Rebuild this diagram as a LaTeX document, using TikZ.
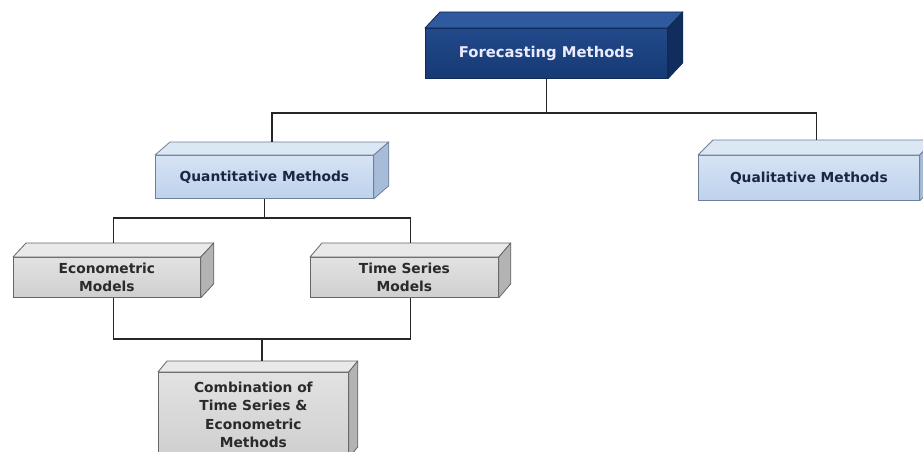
\documentclass[tikz,border=0pt]{standalone}
\usepackage{fontspec}
\setmainfont{DejaVu Sans}
\usetikzlibrary{calc}
\definecolor{fmfrontA}{HTML}{22498B}
\definecolor{fmfrontB}{HTML}{163A74}
\definecolor{fmtopc}{HTML}{2F5A9E}
\definecolor{fmside}{HTML}{102D5E}
\definecolor{fmline}{HTML}{0E2A57}
\definecolor{qfrontA}{HTML}{D5E3F4}
\definecolor{qfrontB}{HTML}{BED2EC}
\definecolor{qtopc}{HTML}{DCE7F4}
\definecolor{qside}{HTML}{A7BCD8}
\definecolor{qline}{HTML}{6F7F96}
\definecolor{qtext}{HTML}{1B2642}
\definecolor{gfrontA}{HTML}{E2E2E2}
\definecolor{gfrontB}{HTML}{CFCFCF}
\definecolor{gtopc}{HTML}{E9E9E9}
\definecolor{gside}{HTML}{B3B3B3}
\definecolor{gline}{HTML}{666666}
\definecolor{gtext}{HTML}{2A2A2A}
\tikzset{
  boxtext/.style={font=\bfseries\fontsize{13.8}{18.5}\selectfont, align=center, inner sep=0pt, anchor=north west, line width=0.8pt},
  fmfront/.style={boxtext, font=\bfseries\fontsize{14.8}{18.5}\selectfont, draw=fmline, top color=fmfrontA, bottom color=fmfrontB, text=white!92!blue},
  qfront/.style={boxtext, draw=qline, top color=qfrontA, bottom color=qfrontB, text=qtext},
  gfront/.style={boxtext, draw=gline, top color=gfrontA, bottom color=gfrontB, text=gtext},
  conn/.style={draw=black!85, line width=1.4pt},
}
% name, dx, dy, top colour, side colour, border colour
\newcommand\cubefaces[6]{%
  \filldraw[fill=#4, draw=#6, line width=0.8pt, line join=round]
    (#1.north west) -- ++(#2,-#3) -- ($(#1.north east)+(#2,-#3)$) -- (#1.north east) -- cycle;
  \filldraw[fill=#5, draw=#6, line width=0.8pt, line join=round]
    (#1.north east) -- ++(#2,-#3) -- ($(#1.south east)+(#2,-#3)$) -- (#1.south east) -- cycle;
  \coordinate (#1top) at ($(#1.north)+(#2/2,-#3)$);
}
\begin{document}
\begin{tikzpicture}[x=1pt,y=-1pt]
\fill[white] (0,0) rectangle (923,452);
\useasboundingbox (0,0) rectangle (923,452);

\node[fmfront, minimum width=242pt, minimum height=50pt] (fm) at (425,28) {Forecasting Methods};
\cubefaces{fm}{15}{16}{fmtopc}{fmside}{fmline}

\node[qfront, minimum width=218pt, minimum height=43pt] (qm) at (155,155) {Quantitative Methods};
\cubefaces{qm}{15}{13}{qtopc}{qside}{qline}

\node[qfront, minimum width=221pt, minimum height=45pt] (ql) at (698,155) {Qualitative Methods};
\cubefaces{ql}{15}{15}{qtopc}{qside}{qline}

\node[gfront, minimum width=187pt, minimum height=40pt] (em) at (13,257) {Econometric\\Models};
\cubefaces{em}{13}{14}{gtopc}{gside}{gline}

\node[gfront, minimum width=188pt, minimum height=40pt] (ts) at (310,257) {Time Series\\Models};
\cubefaces{ts}{12}{14}{gtopc}{gside}{gline}

\node[gfront, minimum width=190pt, minimum height=85pt] (cb) at (158,372) {Combination of\\Time Series \&\\Econometric\\Methods};
\cubefaces{cb}{9}{11}{gtopc}{gside}{gline}

% connectors
\draw[conn] (fm.south) -- ++(0,34) coordinate (j1);
\draw[conn] (qmtop) |- (j1) -| (qltop);
\draw[conn] (qm.south) -- ++(0,19) coordinate (j2);
\draw[conn] (emtop) |- (j2) -| (tstop);
\draw[conn] (emtop |- em.south) -- ++(0,41) coordinate (j3a) -| (tstop |- ts.south);
\coordinate (j3) at ($(j3a)!0.5!(tstop |- j3a)$);
\draw[conn] (j3) -- (j3 |- cbtop);
\end{tikzpicture}
\end{document}
